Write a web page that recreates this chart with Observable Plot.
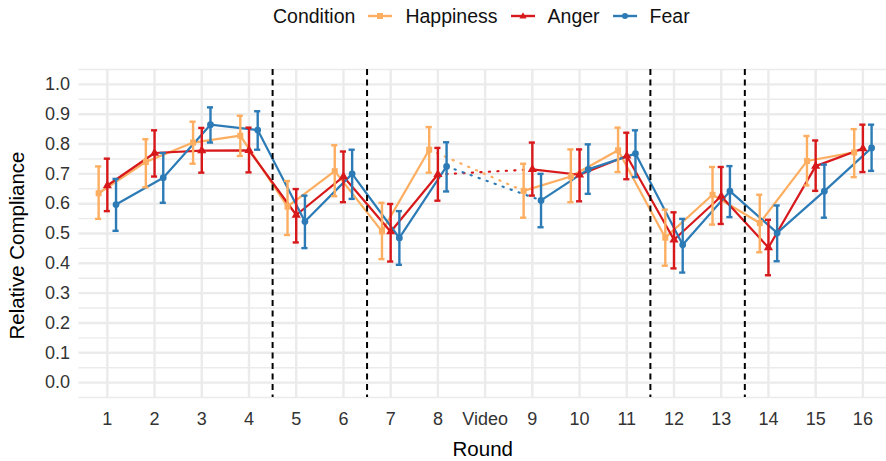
<!DOCTYPE html>
<html>
<head>
<meta charset="utf-8">
<script src="https://cdn.jsdelivr.net/npm/d3@7"></script>
<script src="https://cdn.jsdelivr.net/npm/@observablehq/plot@0.6"></script>
<style>
  body { margin: 0; background: #fff; font-family: "Liberation Sans", Arial, Helvetica, sans-serif; }
  #wrap { position: relative; width: 886px; height: 461px; overflow: hidden; }
  #legend { position: absolute; top: 0; left: 273px; height: 32px; display: flex; align-items: center; font-size: 19.5px; color: #111; white-space: nowrap; }
  #legend .key { display: inline-block; width: 24px; height: 14px; }
  #legend svg { display: block; }
</style>
</head>
<body>
<div id="wrap"><div id="chart"></div><div id="legend"></div></div>
<script>
// ---- data ----
const rounds = ["1","2","3","4","5","6","7","8","Video","9","10","11","12","13","14","15","16"];
const dataRounds = ["1","2","3","4","5","6","7","8","9","10","11","12","13","14","15","16"];
const conditions = ["Happiness","Anger","Fear"];
const conditionColors = ["#FDAE61","#D7191C","#2C7BB6"];
const conditionSymbols = ["square","triangle","circle"];

const happinessMean = [0.635,0.740,0.805,0.828,0.590,0.709,0.507,0.781,0.643,0.691,0.779,0.486,0.630,0.535,0.743,0.772];
const happinessLow  = [0.549,0.655,0.734,0.760,0.495,0.625,0.414,0.704,0.553,0.605,0.706,0.392,0.530,0.437,0.661,0.689];
const happinessHigh = [0.725,0.816,0.875,0.895,0.676,0.796,0.603,0.857,0.734,0.782,0.855,0.580,0.723,0.630,0.827,0.850];

const angerMean = [0.661,0.770,0.778,0.779,0.562,0.691,0.506,0.698,0.715,0.697,0.760,0.479,0.625,0.453,0.726,0.785];
const angerLow  = [0.575,0.691,0.704,0.705,0.470,0.605,0.406,0.610,0.627,0.608,0.682,0.383,0.532,0.360,0.643,0.706];
const angerHigh = [0.751,0.846,0.854,0.855,0.649,0.775,0.599,0.787,0.805,0.782,0.838,0.571,0.723,0.546,0.812,0.865];

const fearMean = [0.597,0.687,0.865,0.847,0.540,0.700,0.485,0.725,0.611,0.715,0.768,0.462,0.642,0.502,0.642,0.787];
const fearLow  = [0.509,0.603,0.805,0.781,0.451,0.616,0.395,0.641,0.521,0.633,0.689,0.369,0.555,0.407,0.553,0.710];
const fearHigh = [0.683,0.770,0.923,0.910,0.627,0.781,0.575,0.806,0.700,0.799,0.846,0.549,0.726,0.594,0.731,0.865];

const phaseBreakAfter = ["4","6","11","13"];
const yTicks = [0.0,0.1,0.2,0.3,0.4,0.5,0.6,0.7,0.8,0.9,1.0];
const yMinorGrid = [-0.05,0.05,0.15,0.25,0.35,0.45,0.55,0.65,0.75,0.85,0.95,1.05];

// ---- build table ----
const seriesArrays = {
  Happiness: [happinessMean, happinessLow, happinessHigh],
  Anger: [angerMean, angerLow, angerHigh],
  Fear: [fearMean, fearLow, fearHigh]
};
const rows = [];
for (const c of conditions) {
  const [m, lo, hi] = seriesArrays[c];
  dataRounds.forEach((r, k) => {
    const i = rounds.indexOf(r);
    rows.push({cond: c, round: r, i, mean: m[k], low: lo[k], high: hi[k], seg: i < rounds.indexOf("Video") ? "a" : "b"});
  });
}
const dodgePx = {Happiness: -8.7, Anger: 0, Fear: 8.7};
const capHalf = 0.065;

const marks = [];
// grid
marks.push(Plot.ruleY(yMinorGrid, {stroke: "#ebebeb", strokeWidth: 1.4}));
marks.push(Plot.ruleY(yTicks, {stroke: "#ebebeb", strokeWidth: 2.4}));
marks.push(Plot.ruleX(d3.range(rounds.length), {stroke: "#ebebeb", strokeWidth: 2.4}));
// solid lines
for (const c of conditions) {
  marks.push(Plot.line(rows.filter(d => d.cond === c), {x: "i", y: "mean", z: "seg", stroke: "cond", strokeWidth: 2.2, dx: dodgePx[c]}));
}
// dotted bridge across the video
for (const c of conditions) {
  marks.push(Plot.line(rows.filter(d => d.cond === c && (d.round === "8" || d.round === "9")),
    {x: "i", y: "mean", stroke: "cond", strokeWidth: 2.2, strokeDasharray: "1.2,7.3", dx: dodgePx[c]}));
}
// error bars
for (const c of conditions) {
  const sub = rows.filter(d => d.cond === c);
  marks.push(Plot.ruleX(sub, {x: "i", y1: "low", y2: "high", stroke: "cond", strokeWidth: 2.4, dx: dodgePx[c]}));
  marks.push(Plot.ruleY(sub, {y: "high", x1: d => d.i - capHalf, x2: d => d.i + capHalf, stroke: "cond", strokeWidth: 2.4, dx: dodgePx[c]}));
  marks.push(Plot.ruleY(sub, {y: "low", x1: d => d.i - capHalf, x2: d => d.i + capHalf, stroke: "cond", strokeWidth: 2.4, dx: dodgePx[c]}));
}
// points
for (const c of conditions) {
  marks.push(Plot.dot(rows.filter(d => d.cond === c), {x: "i", y: "mean", fill: "cond", symbol: "cond", r: 3.4, dx: dodgePx[c]}));
}
// phase separators
marks.push(Plot.ruleX(phaseBreakAfter, {x: r => rounds.indexOf(r) + 0.5, stroke: "#000", strokeWidth: 2, strokeDasharray: "6,4.5"}));
// axes
marks.push(Plot.axisX({ticks: d3.range(rounds.length), tickFormat: i => rounds[i], tickSize: 0, tickPadding: 15, fontSize: 18, fill: "#333", label: null}));
marks.push(Plot.axisY({ticks: yTicks, tickFormat: d3.format(".1f"), tickSize: 0, tickPadding: 9, fontSize: 18, fill: "#333", label: null}));
// axis titles
marks.push(Plot.text(["Round"], {text: d => d, frameAnchor: "bottom", textAnchor: "middle", lineAnchor: "middle", dy: 52, fontSize: 20.5, fill: "#000"}));
marks.push(Plot.text(["Relative Compliance"], {text: d => d, frameAnchor: "left", textAnchor: "middle", lineAnchor: "middle", dx: -62, dy: 12, rotate: -90, fontSize: 20.5, fill: "#000"}));

const chart = Plot.plot({
  width: 886,
  height: 461,
  marginLeft: 78.5,
  marginRight: 0,
  marginTop: 69,
  marginBottom: 64,
  style: {fontFamily: "'Liberation Sans', Arial, Helvetica, sans-serif", fontSize: "18px", background: "#fff"},
  x: {type: "linear", domain: [-0.6, 16.5], axis: null},
  y: {domain: [-0.05, 1.05], axis: null},
  color: {domain: conditions, range: conditionColors},
  symbol: {domain: conditions, range: conditionSymbols},
  marks
});
document.getElementById("chart").appendChild(chart);

// ---- legend ----
const legend = document.getElementById("legend");
const title = document.createElement("span");
title.textContent = "Condition";
title.style.marginRight = "13px";
legend.appendChild(title);
const symPaths = {
  square: '<rect x="9" y="4" width="6" height="6"/>',
  triangle: '<path d="M12,3.3 L15.6,9.6 L8.4,9.6 Z"/>',
  circle: '<circle cx="12" cy="7" r="3"/>'
};
conditions.forEach((c, k) => {
  const key = document.createElement("span");
  key.className = "key";
  key.innerHTML = `<svg width="24" height="14"><line x1="0" x2="24" y1="7" y2="7" stroke="${conditionColors[k]}" stroke-width="2.4"/><g fill="${conditionColors[k]}">${symPaths[conditionSymbols[k]]}</g></svg>`;
  key.style.marginRight = "13px";
  legend.appendChild(key);
  const lab = document.createElement("span");
  lab.textContent = c;
  if (k < conditions.length - 1) lab.style.marginRight = "13px";
  legend.appendChild(lab);
});
</script>
</body>
</html>
